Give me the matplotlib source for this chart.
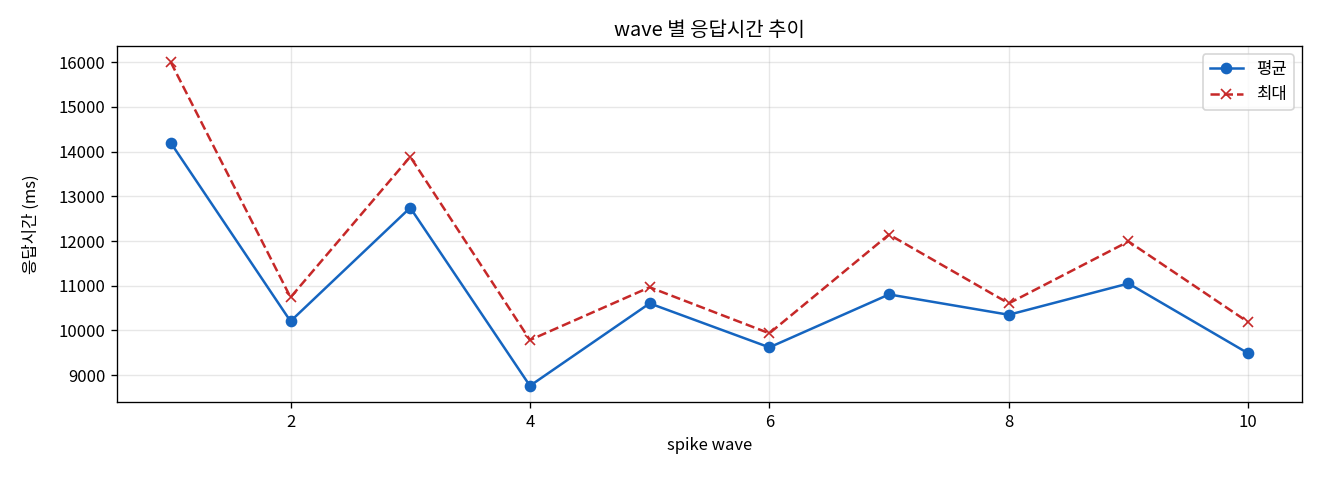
import matplotlib
matplotlib.use("Agg")
import matplotlib.pyplot as plt

plt.rcParams['font.family'] = ['Noto Sans CJK KR', 'DejaVu Sans']
plt.rcParams['axes.unicode_minus'] = False

# wave 별 응답시간 (ms)
waves = [1, 2, 3, 4, 5, 6, 7, 8, 9, 10]
avg_ms = [14195, 10205, 12745, 8760, 10605, 9620, 10805, 10350, 11050, 9487]
max_ms = [16000, 10740, 13885, 9785, 10965, 9935, 12145, 10605, 11990, 10185]

fig, ax = plt.subplots(figsize=(11, 4), dpi=120)

ax.plot(waves, avg_ms, marker='o', color='#1565C0', label='평균')
ax.plot(waves, max_ms, marker='x', linestyle='--', color='#C62828', label='최대')

ax.set_title('wave 별 응답시간 추이')
ax.set_xlabel('spike wave')
ax.set_ylabel('응답시간 (ms)', labelpad=11)
ax.grid(True, alpha=0.3)
ax.legend(loc='upper right')

fig.subplots_adjust(left=0.0886, right=0.9864, top=0.904, bottom=0.1625)
plt.savefig('out.png')
